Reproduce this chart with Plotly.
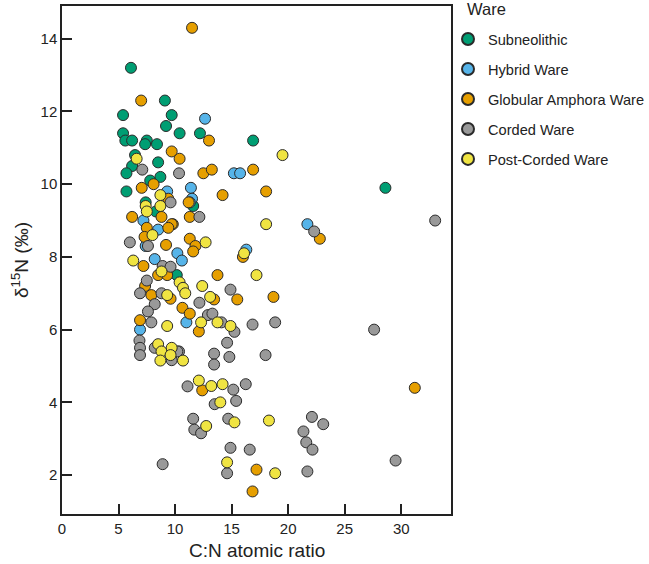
import plotly.graph_objects as go

# ---- data (C:N atomic ratio, d15N) ----
series_names = ["Subneolithic", "Hybrid Ware", "Globular Amphora Ware", "Corded Ware", "Post-Corded Ware"]
series_colors = ["#009E73", "#56B4E9", "#E69F00", "#999999", "#F0E442"]

subneo_x = [6.1, 5.4, 9.1, 9.7, 9.2, 10.4, 12.2, 5.4, 5.6, 6.2, 7.5, 7.35, 8.4, 16.9, 6.46, 6.2, 5.7, 8.5,
            8.7, 7.8, 5.7, 7.4, 8.3, 11.6, 10.15, 28.6]
subneo_y = [13.2, 11.9, 12.3, 11.9, 11.6, 11.4, 11.4, 11.4, 11.2, 11.2, 11.2, 11.1, 11.1, 11.2, 10.8, 10.5, 10.3, 10.6,
            10.2, 10.1, 9.8, 9.5, 9.25, 9.4, 7.5, 9.9]

hybrid_x = [12.65, 11.4, 11.5, 9.3, 15.2, 15.75, 21.7, 16.3, 10.2, 10.6, 7.2, 8.5, 7.4, 8.2, 6.9, 11.0, 11.3]
hybrid_y = [11.8, 9.9, 9.6, 9.8, 10.3, 10.3, 8.9, 8.2, 8.1, 7.9, 9.0, 8.75, 8.3, 7.94, 6.0, 6.2, 9.5]

globular_x = [11.5, 7.0, 13.0, 9.7, 10.4, 12.5, 13.25, 16.9, 7.05, 8.1, 14.2, 18.05, 11.2, 11.3, 9.8, 6.2,
              8.8, 9.7, 9.4, 7.5, 7.3, 9.2, 11.3, 11.8, 11.6, 16.0, 22.8, 7.2, 8.5, 9.3, 7.35, 7.9, 9.6,
              10.65, 11.3, 6.9, 12.1, 13.75, 13.45, 15.5, 18.7, 12.4, 31.2, 17.2, 16.85, 9.4]
globular_y = [14.3, 12.3, 11.2, 10.9, 10.7, 10.3, 10.4, 10.4, 9.9, 10.0, 9.7, 9.8, 9.5, 9.1, 8.9, 9.1,
              9.1, 8.9, 8.8, 8.8, 8.55, 8.33, 8.5, 8.3, 8.15, 8.0, 8.5, 7.75, 7.5, 7.5, 7.2, 6.95, 6.85,
              6.6, 6.44, 6.26, 5.95, 7.5, 6.83, 6.83, 6.9, 4.33, 4.4, 2.15, 1.55, 9.6]

corded_x = [7.1, 10.35, 9.6, 12.15, 6.0, 7.6, 8.9, 9.6, 7.5, 6.9, 8.8, 8.2, 7.6, 12.15, 12.9, 7.9, 6.85,
            6.9, 6.9, 8.2, 10.35, 9.7, 10.2, 14.9, 13.3, 14.1, 15.25, 16.85, 18.85, 14.6, 13.45, 13.45,
            14.8, 18.0, 11.1, 15.15, 16.25, 13.5, 15.4, 11.6, 11.7, 12.3, 14.7, 22.1, 23.1, 21.35, 21.6,
            22.15, 14.9, 16.6, 14.6, 21.7, 8.9, 22.3, 33.0, 27.6, 29.5]
corded_y = [10.4, 10.3, 9.5, 9.1, 8.4, 8.3, 7.75, 7.73, 7.35, 7.0, 7.0, 6.7, 6.5, 6.74, 6.4, 6.2, 5.7,
            5.5, 5.3, 5.5, 5.4, 5.16, 5.4, 7.1, 6.44, 6.2, 5.94, 6.14, 6.2, 5.64, 5.34, 5.04,
            5.25, 5.3, 4.44, 4.35, 4.5, 3.95, 4.04, 3.55, 3.25, 3.15, 3.55, 3.6, 3.4, 3.2, 2.9,
            2.7, 2.75, 2.7, 2.05, 2.1, 2.3, 8.7, 9.0, 6.0, 2.4]

postcorded_x = [19.5, 6.6, 8.7, 8.7, 7.4, 8.0, 12.7, 18.05, 16.1, 6.3, 8.8, 10.4, 10.7, 10.9, 12.4, 9.3,
                9.3, 12.3, 13.75, 14.9, 17.2, 13.1, 8.5, 8.8, 9.7, 9.6, 8.7, 10.7, 12.1, 13.2, 14.2, 14.0,
                12.75, 15.25, 18.3, 14.6, 18.85, 7.5]
postcorded_y = [10.8, 10.7, 9.7, 9.4, 9.4, 8.6, 8.4, 8.9, 8.1, 7.9, 7.6, 7.3, 7.15, 7.0, 7.2, 6.95,
                6.1, 6.2, 6.2, 6.1, 7.5, 6.9, 5.6, 5.4, 5.5, 5.3, 5.15, 5.15, 4.6, 4.45, 4.5, 4.0,
                3.35, 3.45, 3.5, 2.35, 2.05, 9.25]

x_ticks = [0, 5, 10, 15, 20, 25, 30]
y_ticks = [2, 4, 6, 8, 10, 12, 14]
legend_title = "Ware"
x_title = "C:N atomic ratio"
y_title = "δ<sup>15</sup>N (‰)"

all_x = [subneo_x, hybrid_x, globular_x, corded_x, postcorded_x]
all_y = [subneo_y, hybrid_y, globular_y, corded_y, postcorded_y]

FONT = "Arial, 'Liberation Sans', sans-serif"
W, H = 649, 564
L, R, T, B = 62, 198, 6, 50
PW, PH = W - L - R, H - T - B

fig = go.Figure()
for name, color, xs, ys in zip(series_names, series_colors, all_x, all_y):
    fig.add_trace(go.Scatter(
        x=xs, y=ys, mode="markers", name=name, legendgroup=name,
        marker=dict(color=color, size=11, line=dict(color="#2a2a2a", width=1)),
    ))

axis_common = dict(
    showgrid=False, zeroline=False, showline=True, linecolor="#222", linewidth=1.5,
    mirror=True, ticks="inside", ticklen=10, tickwidth=1.5, tickcolor="#222",
    tickfont=dict(family=FONT, size=15, color="#222"),
)

fig.update_layout(
    width=W, height=H,
    margin=dict(l=L, r=R, t=T, b=B, autoexpand=False),
    paper_bgcolor="white", plot_bgcolor="white",
    font=dict(family=FONT, color="#222"),
    xaxis=dict(range=[0, 34.4], tickvals=x_ticks, automargin=False, **axis_common),
    yaxis=dict(range=[0.93, 14.9], tickvals=y_ticks, automargin=False, **axis_common),
    legend=dict(
        font=dict(family=FONT, size=14.6, color="#222"),
        xref="container", yref="container",
        x=448 / W, y=1 - 23 / H, xanchor="left", yanchor="top",
        tracegroupgap=8, itemsizing="constant", bgcolor="rgba(0,0,0,0)",
    ),
    annotations=[
        dict(text=legend_title, xref="paper", yref="paper",
             x=(465 - L) / PW, y=1 + (T - 9) / PH,
             xanchor="left", yanchor="middle", showarrow=False,
             font=dict(family=FONT, size=16.5, color="#222")),
        dict(text=x_title, xref="paper", yref="paper",
             x=0.5, y=-(550 - (T + PH)) / PH,
             xanchor="center", yanchor="middle", showarrow=False,
             font=dict(family=FONT, size=19, color="#222")),
        dict(text=y_title, xref="paper", yref="paper", textangle=-90,
             x=-(L - 20) / PW, y=0.5,
             xanchor="center", yanchor="middle", showarrow=False,
             font=dict(family=FONT, size=19, color="#222")),
    ],
    showlegend=True,
)

fig.write_html(
    "out.html",
    config={"displayModeBar": False},
    post_script="document.body.style.margin='0';document.body.style.overflow='hidden';",
)
